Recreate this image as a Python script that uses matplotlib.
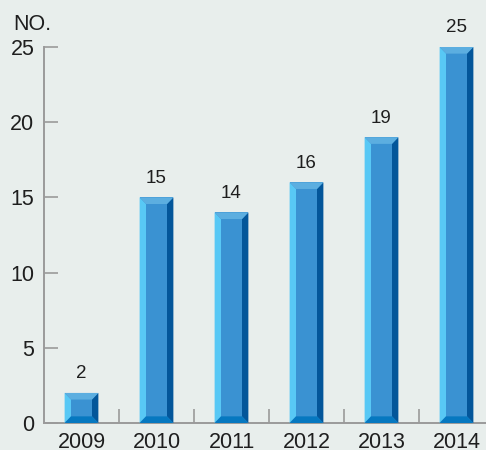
import matplotlib
matplotlib.use("Agg")
import matplotlib.pyplot as plt
from matplotlib.patches import Polygon

years = ["2009", "2010", "2011", "2012", "2013", "2014"]
counts = [2, 15, 14, 16, 19, 25]

BG = "#e8eeec"
FACE = "#3a92d2"
LEFT = "#58c8f5"
TOP = "#5caee0"
RIGHT = "#03569a"
BOTTOM = "#0678c0"
AXIS = "#9a9a9a"
TEXT = "#1e1e1e"

plt.rcParams["font.family"] = ["Liberation Sans", "DejaVu Sans"]

fig = plt.figure(figsize=(4.86, 4.5), dpi=100, facecolor=BG)
ax = fig.add_axes([44 / 486, 27 / 450, 450 / 486, 376 / 450])
ax.set_facecolor(BG)

width = 0.45
bx = 0.085  # bevel depth along x (data units)
by = 0.44   # bevel depth along y (data units)

x = list(range(len(years)))
bars = ax.bar(x, counts, width=width, color=FACE, linewidth=0, zorder=2)

for rect, v in zip(bars, counts):
    x0 = rect.get_x()
    x1 = x0 + rect.get_width()
    y0 = 0.0
    y1 = v
    ix0, ix1 = x0 + bx, x1 - bx
    iy0, iy1 = y0 + by, y1 - by
    faces = [
        ([(x0, y0), (ix0, iy0), (ix0, iy1), (x0, y1)], LEFT),
        ([(x1, y0), (x1, y1), (ix1, iy1), (ix1, iy0)], RIGHT),
        ([(x0, y1), (x1, y1), (ix1, iy1), (ix0, iy1)], TOP),
        ([(x0, y0), (ix0, iy0), (ix1, iy0), (x1, y0)], BOTTOM),
    ]
    for pts, col in faces:
        ax.add_patch(Polygon(pts, closed=True, facecolor=col,
                             edgecolor="none", zorder=3))
    ax.text(rect.get_x() + rect.get_width() / 2, v + 0.7, str(v),
            ha="center", va="bottom", fontsize=13.5, color=TEXT, zorder=4)

ax.set_xlim(-0.5, 5.5)
ax.set_ylim(0, 25)

ax.set_xticks(x)
ax.set_xticklabels(years)
ax.set_xticks([i + 0.5 for i in range(len(years) - 1)], minor=True)
ax.tick_params(axis="x", which="major", length=0, pad=6.5,
               labelsize=15.5, colors=TEXT)
ax.tick_params(axis="x", which="minor", direction="in", length=10,
               width=1.2, color=AXIS)

ax.set_yticks([0, 5, 10, 15, 20, 25])
ax.tick_params(axis="y", direction="in", length=10, width=1.2,
               color=AXIS, labelsize=15.5, labelcolor=TEXT, pad=7)

for side in ("top", "right"):
    ax.spines[side].set_visible(False)
for side in ("left", "bottom"):
    ax.spines[side].set_color(AXIS)
    ax.spines[side].set_linewidth(1.4)

fig.text(13 / 486, 1 - 30 / 450, "NO.", ha="left", va="baseline",
         fontsize=15.5, color=TEXT)

fig.savefig("out.png", dpi=100, facecolor=BG)
